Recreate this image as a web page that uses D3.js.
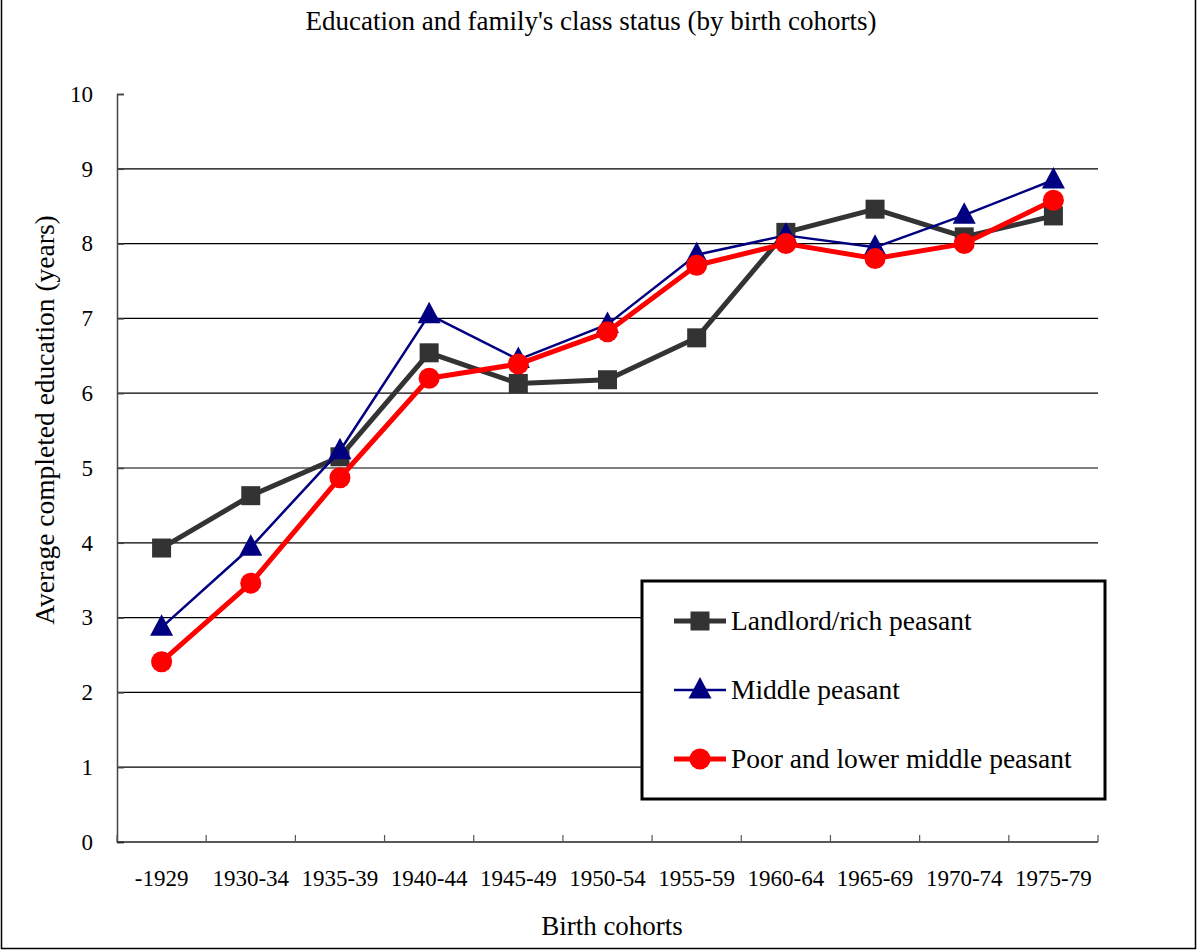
<!DOCTYPE html>
<html>
<head>
<meta charset="utf-8">
<script src="https://cdn.jsdelivr.net/npm/d3@7"></script>
<style>
  body { margin: 0; background: #fff; }
  svg text { font-family: "Liberation Serif", "Times New Roman", serif; fill: #000; }
</style>
</head>
<body>
<div id="chart"></div>
<script>
const cohorts = ["-1929", "1930-34", "1935-39", "1940-44", "1945-49", "1950-54",
                 "1955-59", "1960-64", "1965-69", "1970-74", "1975-79"];
const landlord = [3.93, 4.63, 5.15, 6.54, 6.13, 6.18, 6.74, 8.15, 8.46, 8.09, 8.37];
const middle   = [2.87, 3.94, 5.23, 7.05, 6.45, 6.92, 7.85, 8.11, 7.95, 8.38, 8.85];
const poor     = [2.41, 3.46, 4.87, 6.20, 6.39, 6.82, 7.71, 8.00, 7.80, 8.00, 8.58];
const yTicks = d3.range(0, 11);

const W = 1198, H = 951;
const margin = {top: 94, right: 100, bottom: 109, left: 117};
const plotW = W - margin.left - margin.right;
const plotH = H - margin.top - margin.bottom;

const series = [
    {name: "Landlord/rich peasant", values: landlord, color: "#333333", width: 5, marker: "square"},
    {name: "Middle peasant", values: middle, color: "#000080", width: 2.5, marker: "triangle"},
    {name: "Poor and lower middle peasant", values: poor, color: "#ff0000", width: 5, marker: "circle"}
];

const svg = d3.select("#chart").append("svg")
    .attr("width", W)
    .attr("height", H);

// outer frame
svg.append("path")
    .attr("d", `M1.5,0 V${H - 2.5} H${W - 2.5} V0`)
    .attr("fill", "none")
    .attr("stroke", "#000")
    .attr("stroke-width", 1.5);

svg.append("text")
    .attr("x", 591)
    .attr("y", 30)
    .attr("text-anchor", "middle")
    .style("font-size", "27px")
    .text("Education and family's class status (by birth cohorts)");

const g = svg.append("g")
    .attr("transform", `translate(${margin.left},${margin.top})`);

const x = d3.scaleBand().domain(cohorts).range([0, plotW]).padding(0);
const y = d3.scaleLinear().domain([0, 10]).range([plotH, 0]);

// gridlines
g.selectAll(".grid")
    .data(yTicks.filter(d => d > 0 && d < 10))
    .join("line")
    .attr("class", "grid")
    .attr("x1", 0).attr("x2", plotW)
    .attr("y1", d => y(d)).attr("y2", d => y(d))
    .attr("stroke", "#000")
    .attr("stroke-width", 1.2);

// y axis (ticks inside)
const yAxis = g.append("g")
    .call(d3.axisLeft(y).tickValues(yTicks).tickSize(-7).tickPadding(24));
yAxis.select(".domain").attr("stroke", "#444").attr("stroke-width", 1.5);
yAxis.selectAll(".tick line").attr("stroke", "#444").attr("stroke-width", 1.5);
yAxis.selectAll(".tick text")
    .style("font-size", "23px")
    .style("font-family", "Liberation Serif, serif")
    .attr("text-anchor", "end");

// x axis with boundary ticks pointing up
g.append("line")
    .attr("x1", 0).attr("x2", plotW)
    .attr("y1", plotH).attr("y2", plotH)
    .attr("stroke", "#222").attr("stroke-width", 1.5);
const bounds = cohorts.map(c => x(c)).concat([plotW]);
g.selectAll(".xtick")
    .data(bounds)
    .join("line")
    .attr("class", "xtick")
    .attr("x1", d => d).attr("x2", d => d)
    .attr("y1", plotH).attr("y2", plotH - 7)
    .attr("stroke", "#555").attr("stroke-width", 1.2);
g.selectAll(".xlabel")
    .data(cohorts)
    .join("text")
    .attr("class", "xlabel")
    .attr("x", d => x(d) + x.bandwidth() / 2)
    .attr("y", plotH + 44)
    .attr("text-anchor", "middle")
    .style("font-size", "23px")
    .text(d => d);

svg.append("text")
    .attr("x", 612)
    .attr("y", 935)
    .attr("text-anchor", "middle")
    .style("font-size", "27px")
    .text("Birth cohorts");

svg.append("text")
    .attr("transform", `translate(54,420) rotate(-90)`)
    .attr("text-anchor", "middle")
    .style("font-size", "27.5px")
    .text("Average completed education (years)");

const line = d3.line()
    .x((d, i) => x(cohorts[i]) + x.bandwidth() / 2)
    .y(d => y(d));

function drawMarker(sel, type, color) {
    if (type === "square") {
        sel.append("rect")
            .attr("x", -9.5).attr("y", -9.5).attr("width", 19).attr("height", 19)
            .attr("fill", color);
    } else if (type === "triangle") {
        sel.append("path")
            .attr("d", "M0,-13 L11.5,8.5 L-11.5,8.5 Z")
            .attr("fill", color);
    } else {
        sel.append("circle").attr("r", 10.5).attr("fill", color);
    }
}

series.forEach(s => {
    g.append("path")
        .datum(s.values)
        .attr("d", line)
        .attr("fill", "none")
        .attr("stroke", s.color)
        .attr("stroke-width", s.width)
        .attr("stroke-linejoin", "round");
    s.values.forEach((v, i) => {
        const m = g.append("g")
            .attr("transform", `translate(${x(cohorts[i]) + x.bandwidth() / 2},${y(v)})`);
        drawMarker(m, s.marker, s.color);
    });
});

// legend
const legend = svg.append("g").attr("transform", "translate(642,581)");
legend.append("rect")
    .attr("width", 463).attr("height", 218)
    .attr("fill", "#fff")
    .attr("stroke", "#000")
    .attr("stroke-width", 3);
series.forEach((s, i) => {
    const row = legend.append("g").attr("transform", `translate(0,${40 + i * 69})`);
    row.append("line")
        .attr("x1", 32).attr("x2", 84)
        .attr("stroke", s.color).attr("stroke-width", s.width);
    const m = row.append("g").attr("transform", "translate(58,0)");
    drawMarker(m, s.marker, s.color);
    row.append("text")
        .attr("x", 89)
        .attr("y", 9)
        .style("font-size", "27.5px")
        .text(s.name);
});
</script>
</body>
</html>
